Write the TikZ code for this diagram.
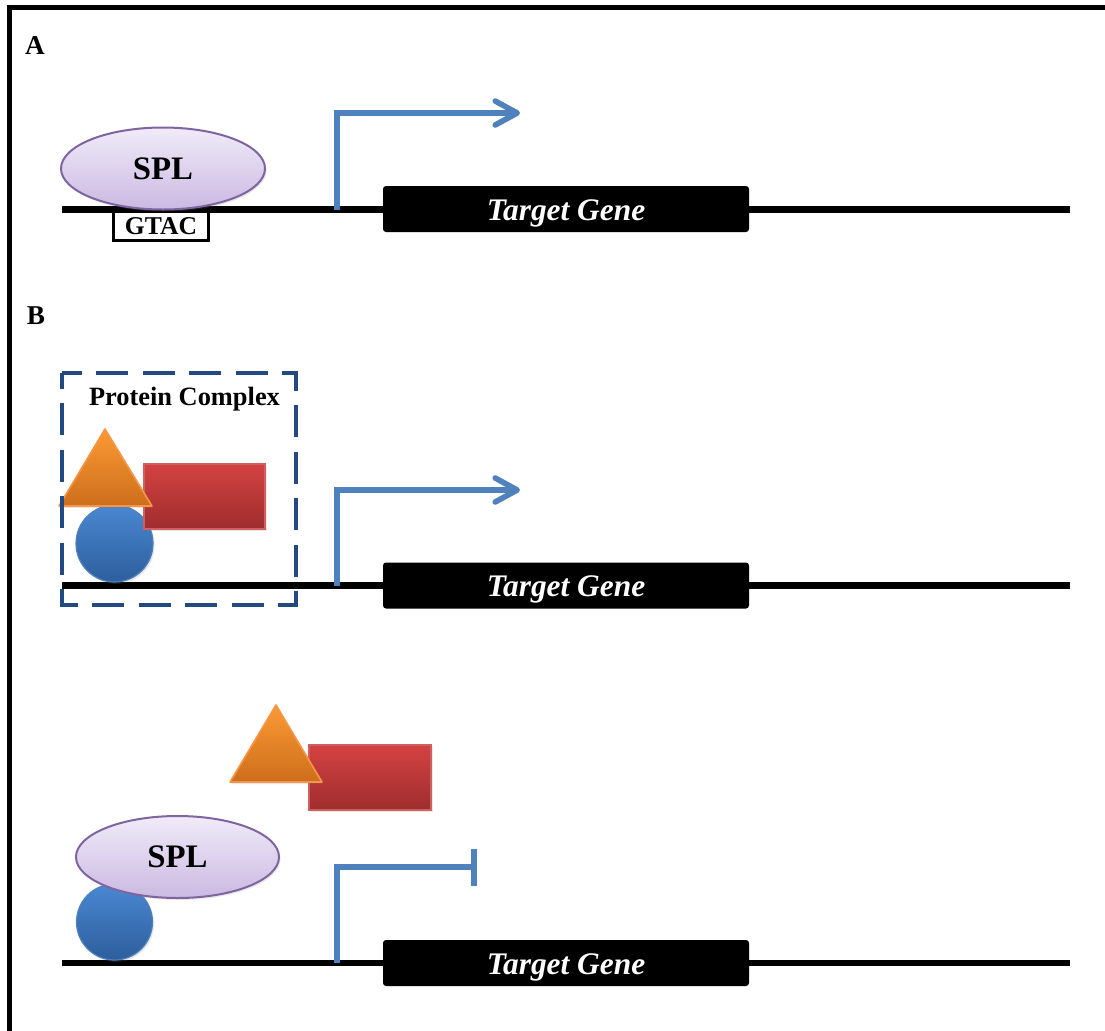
\documentclass[tikz,border=0pt]{standalone}
\usepackage{fontspec}
\setmainfont{Liberation Serif}
\usetikzlibrary{arrows.meta,shapes.geometric,shadows}
\definecolor{promo}{HTML}{4F81BD}
\definecolor{splTop}{HTML}{F0EBF8}
\definecolor{splBot}{HTML}{CBB9E2}
\definecolor{splEdge}{HTML}{8064A2}
\definecolor{orTop}{HTML}{FA9A34}
\definecolor{orBot}{HTML}{CE6E1C}
\definecolor{orEdge}{HTML}{F79646}
\definecolor{rdTop}{HTML}{D44242}
\definecolor{rdBot}{HTML}{9F2D2D}
\definecolor{rdEdge}{HTML}{D06060}
\definecolor{blTop}{HTML}{4A88D2}
\definecolor{blBot}{HTML}{2D5E9C}
\definecolor{blEdge}{HTML}{4F81BD}
\definecolor{cplx}{HTML}{234A80}
\begin{document}
\begin{tikzpicture}[x=0.5pt,y=-0.5pt,
  panel/.style={inner sep=0pt, font=\fontsize{13.6}{15}\selectfont\bfseries},
  dna/.style={line width=3.4pt},
  spl/.style={ellipse, draw=splEdge, line width=1pt, top color=splTop, bottom color=splBot,
    minimum width=102pt, minimum height=41pt, inner sep=0pt,
    font=\fontsize{16.4}{18}\selectfont\bfseries,
    drop shadow={opacity=0.18, shadow xshift=0.8pt, shadow yshift=-1pt}},
  gene/.style={rectangle, rounded corners=1.5pt, fill=black, minimum width=183pt, minimum height=23pt,
    inner sep=0pt, text height=12.2pt, text depth=1.2pt, text=white,
    font=\fontsize{15.7}{17}\selectfont\bfseries\itshape},
  motif/.style={rectangle, draw=black, fill=white, line width=1.7pt, minimum width=47.5pt,
    minimum height=14.5pt, inner sep=0pt, font=\fontsize{12.8}{14}\selectfont\bfseries},
  promoter/.style={draw=promo, line width=2.8pt, line join=miter},
  activate/.style={promoter, -{Straight Barb[length=11pt,width=12pt,round]}},
  repress/.style={promoter, -{Bar[width=18.5pt]}},
  tri/.style={top color=orTop, bottom color=orBot, draw=orEdge, line width=0.8pt, line join=round,
    drop shadow={opacity=0.18, shadow xshift=0.8pt, shadow yshift=-1pt}},
  redbox/.style={top color=rdTop, bottom color=rdBot, draw=rdEdge, line width=0.6pt,
    drop shadow={opacity=0.18, shadow xshift=0.8pt, shadow yshift=-1pt}},
  ball/.style={top color=blTop, bottom color=blBot, draw=blEdge, line width=0.6pt,
    drop shadow={opacity=0.18, shadow xshift=0.8pt, shadow yshift=-1pt}},
  complexbox/.style={draw=cplx, line width=2.2pt, dash pattern=on 16pt off 7.2pt, dash phase=8pt},
  lbl/.style={inner sep=0pt, font=\fontsize{13.2}{15}\selectfont\bfseries}
]
\useasboundingbox (0,0) rectangle (1105,1030);
\fill[white] (0,0) rectangle (1105,1030);
% frame
\draw[line width=2.4pt] (9.5,1045) -- (9.5,7.5) -- (1120,7.5);

% ---------------- Panel A ----------------
\node[panel] (labA) at (35,46) {A};
\coordinate (dnaAs) at (62,209.5);
\coordinate (dnaAe) at (1070,209.5);
\draw[dna] (dnaAs) -- (dnaAe);
\node[motif, anchor=north] (gtac) at (161,209.5) {GTAC};
\node[spl] (splA) at (163,168.5) {SPL};
\node[gene] (geneA) at (566,209) {Target Gene};
\coordinate (tssA) at (337,209.5);
\coordinate (tipA) at (520,113);
\draw[activate] (tssA) -- (tssA |- tipA) -- (tipA);

% ---------------- Panel B (top) ----------------
\node[panel] (labB) at (36,316) {B};
\coordinate (dnaBs) at (62,585.5);
\coordinate (dnaBe) at (1070,585.5);
\draw[dna] (dnaBs) -- (dnaBe);
\shade[ball] (114.5,543.5) circle [radius=38.5];
\shade[redbox] (144,464) rectangle (265,529);
\shade[tri] (105,429) -- (152,506) -- (59,506) -- cycle;
\draw[complexbox] (62,373) rectangle (296,605);
\node[lbl, anchor=base] (cplxlbl) at (184.5,405) {Protein Complex};
\node[gene] (geneB) at (566,585.5) {Target Gene};
\coordinate (tssB) at (337,585.5);
\coordinate (tipB) at (520,490);
\draw[activate] (tssB) -- (tssB |- tipB) -- (tipB);

% ---------------- Panel B (bottom) ----------------
\coordinate (dnaCs) at (62,963);
\coordinate (dnaCe) at (1070,963);
\draw[dna] (dnaCs) -- (dnaCe);
\shade[redbox] (309,745) rectangle (431,810);
\shade[tri] (276,705) -- (322,782) -- (230,782) -- cycle;
\shade[ball] (114.5,922) circle [radius=38];
\node[spl, minimum width=101.5pt] (splC) at (177.5,857) {SPL};
\node[gene] (geneC) at (566,963) {Target Gene};
\coordinate (tssC) at (337,963);
\coordinate (stopC) at (477,867);
\draw[repress] (tssC) -- (tssC |- stopC) -- (stopC);
\end{tikzpicture}
\end{document}
